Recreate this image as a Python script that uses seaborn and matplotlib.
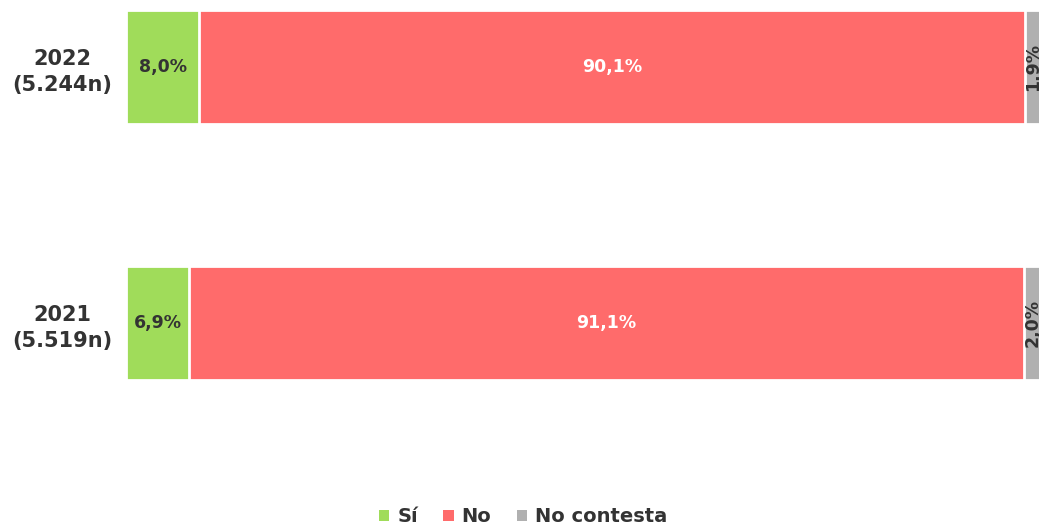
"""
Barras apiladas horizontales: respuesta Sí / No / No contesta por año.
"""

import pandas as pd
import numpy as np
import matplotlib.pyplot as plt
import seaborn as sns
from matplotlib.patches import Patch

# Datos
anios = ['2022', '2021']
muestras = ['5.244n', '5.519n']
si = [8.0, 6.9]
no = [90.1, 91.1]
no_contesta = [1.9, 2.0]

series = ['Sí', 'No', 'No contesta']
colores = ['#a0dc5a', '#ff6b6b', '#b0b0b0']
color_texto = ['#333333', '#ffffff', '#333333']
TEXTO = '#333333'

sns.set_theme(style='white')
plt.rcParams['font.family'] = ['DejaVu Sans']

df = pd.DataFrame({'anio': anios, 'Sí': si, 'No': no, 'No contesta': no_contesta})
df['etiqueta'] = [f'{a}\n({m})' for a, m in zip(anios, muestras)]

# acumulados para apilar
acum = df[series].cumsum(axis=1)

fig = plt.figure(figsize=(10.39, 5.29), dpi=100)
ax = fig.add_axes([126 / 1039, 69 / 529, 916 / 1039, 460 / 529])

# se dibuja de la serie final a la primera para que se superpongan
for serie, color in reversed(list(zip(series, colores))):
    sns.barplot(x=acum[serie], y=df['etiqueta'], color=color, orient='h',
                width=0.445, edgecolor='white', linewidth=2, saturation=1, ax=ax)

# etiquetas de valores
for i in range(len(df)):
    inicio = 0
    for serie, ct in zip(series, color_texto):
        v = df.loc[i, serie]
        centro = inicio + v / 2
        rot = 90 if v < 3 else 0
        ax.text(centro, i, f'{v:.1f}%'.replace('.', ','), ha='center', va='center',
                color=ct, fontsize=12.5, fontweight='bold', rotation=rot)
        inicio += v

ax.set_xlim(0, 100)
ax.set_ylim(1 + 137 / 256, -67 / 256)
ax.set_xlabel('')
ax.set_ylabel('')
ax.set_xticks([])
ax.tick_params(axis='y', length=0, pad=10)
for lab in ax.get_yticklabels():
    lab.set_fontsize(15)
    lab.set_fontweight('bold')
    lab.set_color(TEXTO)
    lab.set_multialignment('center')
    lab.set_linespacing(1.35)
sns.despine(ax=ax, left=True, bottom=True)

handles = [Patch(facecolor=c, edgecolor='none') for c in colores]
leg = fig.legend(handles, series, loc='center', bbox_to_anchor=(523 / 1039, 1 - 517 / 529),
                 ncol=3, frameon=False, handlelength=0.55, handleheight=0.55,
                 handletextpad=0.4, columnspacing=1.3,
                 prop={'weight': 'bold', 'size': 14})
for t in leg.get_texts():
    t.set_color(TEXTO)

fig.savefig('out.png', dpi=100)
